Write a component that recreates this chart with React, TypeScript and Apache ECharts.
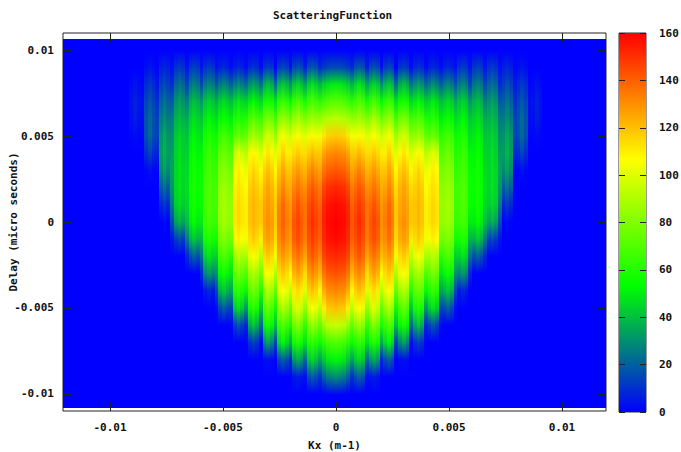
import React, { useEffect, useRef } from "react";
import * as echarts from "echarts";

const FONT = "'DejaVu Sans Mono', monospace";

const kxTicks = [-0.01, -0.005, 0, 0.005, 0.01];
const delayTicks = [-0.01, -0.005, 0, 0.005, 0.01];
const colorTicks = [0, 20, 40, 60, 80, 100, 120, 140, 160];
const paletteStops: [number, number[]][] = [
  [0, [0, 0, 255]],
  [53.33, [0, 255, 0]],
  [106.67, [255, 255, 0]],
  [160, [255, 0, 0]],
];

// Delay rows of every column, from +0.010 to -0.010 in 0.001 steps
const delayNodes = [0.01, 0.009, 0.008, 0.007, 0.006, 0.005, 0.004, 0.003, 0.002, 0.001, 0, -0.001, -0.002, -0.003, -0.004, -0.005, -0.006, -0.007, -0.008, -0.009, -0.01];

// One row per lobe, from the outermost lobe inwards (left half; the surface is mirrored about Kx = 0)
const valleyRows = [
  [0,0,0,0,0,0,0,0,0,0,0,0,0,0,0,0,0,0,0,0,0],
  [0,0,1,3,3,1,0,0,0,0,0,0,0,0,0,0,0,0,0,0,0],
  [0,1,5,10,14,14,8,1,0,0,0,0,0,0,0,0,0,0,0,0,0],
  [0,3,9,19,26,30,33,34,32,26,16,4,0,0,0,0,0,0,0,0,0],
  [0,4,14,27,36,41,44,46,47,45,40,26,8,0,0,0,0,0,0,0,0],
  [0,4,15,32,42,47,52,55,56,55,50,38,24,8,0,0,0,0,0,0,0],
  [0,3,17,36,46,55,60,64,67,67,65,56,44,30,14,2,0,0,0,0,0],
  [0,2,20,40,50,62,70,76,82,84,83,76,62,48,34,14,1,0,0,0,0],
  [0,2,22,44,60,74,92,102,106,110,110,104,88,70,54,32,8,0,0,0,0],
  [0,2,24,46,66,82,98,108,114,118,118,110,92,78,60,42,22,2,0,0,0],
  [0,0,22,48,68,86,100,108,114,118,118,114,104,90,74,56,40,14,0,0,0],
  [0,3,30,54,76,96,110,118,124,128,130,128,120,106,92,74,58,36,8,0,0],
  [0,6,34,58,80,100,114,122,130,136,136,134,126,114,100,84,64,48,22,3,0],
];
const shoulderRows = [
  [0,0,2,4,3,1,0,0,0,0,0,0,0,0,0,0,0,0,0,0,0],
  [0,2,9,14,17,16,9,1,0,0,0,0,0,0,0,0,0,0,0,0,0],
  [0,6,13,20,26,31,33,29,19,8,0,0,0,0,0,0,0,0,0,0,0],
  [0,10,21,31,37,42,44,45,45,43,34,12,0,0,0,0,0,0,0,0,0],
  [0,11,24,37,44,49,52,54,55,54,50,38,16,0,0,0,0,0,0,0,0],
  [0,10,25,41,49,57,62,65,67,67,65,57,44,28,5,0,0,0,0,0,0],
  [0,6,25,43,53,65,73,79,83,85,84,77,66,52,37,15,0,0,0,0,0],
  [0,6,26,46,58,72,96,106,110,112,112,106,88,74,60,43,13,0,0,0,0],
  [0,8,30,50,68,84,104,112,117,119,119,114,102,86,73,57,36,10,0,0,0],
  [0,10,36,56,76,94,108,116,122,125,127,124,114,103,86,69,53,28,2,0,0],
  [0,12,38,61,81,100,110,119,126,132,134,131,124,114,102,85,65,46,16,0,0],
  [0,14,41,64,84,102,114,124,132,138,142,140,132,122,110,95,75,56,32,4,0],
  [0,16,44,66,84,104,118,129,138,144,147,144,138,128,116,102,81,60,42,16,0],
];
const peakRows = [
  [0,0,4,7,6,2,0,0,0,0,0,0,0,0,0,0,0,0,0,0,0],
  [0,4,12,18,22,22,14,3,0,0,0,0,0,0,0,0,0,0,0,0,0],
  [0,8,16,24,30,36,38,34,24,12,2,0,0,0,0,0,0,0,0,0,0],
  [0,12,24,34,40,45,47,48,48,46,38,16,0,0,0,0,0,0,0,0,0],
  [0,13,27,40,47,52,55,57,58,57,54,42,20,0,0,0,0,0,0,0,0],
  [0,12,28,44,52,60,65,68,70,70,68,60,48,32,8,0,0,0,0,0,0],
  [0,8,28,46,56,68,76,82,86,88,87,80,70,56,42,20,0,0,0,0,0],
  [0,8,30,50,62,76,100,110,113,115,115,110,92,78,64,48,18,0,0,0,0],
  [0,10,34,54,72,88,108,116,120,122,122,118,106,90,76,62,42,14,0,0,0],
  [0,12,40,58,78,97,112,120,126,128,130,127,118,107,90,74,58,34,3,0,0],
  [0,14,42,65,85,105,116,125,132,138,140,137,128,118,106,90,70,52,20,0,0],
  [0,16,45,68,88,106,118,128,136,143,146,144,136,126,114,100,80,60,36,6,0],
  [0,18,48,70,88,108,122,133,142,148,151,148,142,132,120,106,86,64,46,20,0],
];
// Central lobe, from its left edge to Kx = 0
const centreKx = [-0.000708, -0.00053, -0.00035, -0.00018, 0];
const centreRows = [
  [0,8,38,62,84,104,118,126,134,140,142,140,132,122,108,94,74,56,34,10,0],
  [0,12,44,66,88,112,126,136,146,152,154,152,146,136,124,110,86,62,42,20,0],
  [0,14,47,69,90,116,130,140,150,156,158,156,150,141,130,118,92,67,49,26,1],
  [0,15,49,71,91,117,131,141,151,157,159,157,151,142,131,119,94,69,51,28,2],
  [0,15,50,72,92,118,132,142,152,158,160,158,152,143,132,120,95,70,52,30,2],
];
const lobeStartKx = -0.009221;
const lobeWidthKx = 0.000655;

const xRange = [-0.01208, 0.01195];
const yRange = [-0.011, 0.011];
const surfaceDelay = [-0.01081, 0.01066];

function valueColor(v: number): string {
  for (let i = 1; i < paletteStops.length; i++) {
    const [v1, c1] = paletteStops[i];
    const [v0, c0] = paletteStops[i - 1];
    if (v <= v1) {
      const t = (v - v0) / (v1 - v0);
      const c = c0.map((a, k) => Math.round(a + (c1[k] - a) * t));
      return `rgb(${c[0]},${c[1]},${c[2]})`;
    }
  }
  return "rgb(255,0,0)";
}

function buildColumns() {
  const left: { kx: number; row: number[] }[] = [];
  valleyRows.forEach((_, n) => {
    const start = lobeStartKx + n * lobeWidthKx;
    [valleyRows[n], shoulderRows[n], peakRows[n], shoulderRows[n]].forEach((row, j) => {
      left.push({ kx: start + (j * lobeWidthKx) / 4, row });
    });
  });
  centreRows.forEach((row, i) => left.push({ kx: centreKx[i], row }));
  const right = left.slice(0, -1).reverse().map((c) => ({ kx: -c.kx, row: c.row }));
  return [...left, ...right];
}

const columns = buildColumns();
const stripData = columns.map((c, i) => {
  const prev = i > 0 ? columns[i - 1].kx : c.kx - lobeWidthKx / 4;
  const next = i < columns.length - 1 ? columns[i + 1].kx : c.kx + lobeWidthKx / 4;
  return [(prev + c.kx) / 2, (c.kx + next) / 2, delayNodes[0], delayNodes[delayNodes.length - 1], i];
});

function rectOf(api: any) {
  const a = api.coord([api.value(0), api.value(2)]);
  const b = api.coord([api.value(1), api.value(3)]);
  const x = Math.round(a[0]);
  const y = Math.round(a[1]);
  return { x, y, width: Math.round(b[0]) - x, height: Math.round(b[1]) - y };
}

const mono = { fontFamily: FONT, fontSize: 11, fontWeight: "bold" as const, color: "#111" };
const lineStyle = { color: "#222", width: 1 };
const noLine = { show: false, onZero: false };
const fmt = (v: number) => String(v);

export default function App() {
  const ref = useRef<HTMLDivElement>(null);
  useEffect(() => {
    const chart = echarts.init(ref.current!, undefined, { renderer: "svg" });
    const barStops = paletteStops.map(([v]) => ({ offset: 1 - v / 160, color: valueColor(v) })).reverse();
    chart.setOption({
      animation: false,
      backgroundColor: "#fff",
      title: {
        text: "ScatteringFunction",
        left: 273,
        top: 10,
        padding: 0,
        textStyle: { ...mono },
      },
      grid: [
        { left: 63, top: 33, width: 543, height: 378, show: true, borderColor: "#222", borderWidth: 1, backgroundColor: "#fff", outerBoundsMode: "none" },
        { left: 619, top: 33, width: 27, height: 379, show: true, borderColor: "#333", borderWidth: 1, outerBoundsMode: "none" },
      ],
      xAxis: [
        {
          type: "value", gridIndex: 0, min: xRange[0], max: xRange[1], position: "bottom", z: 5,
          name: "Kx (m-1)", nameLocation: "middle", nameGap: 29, nameMoveOverlap: false, nameTextStyle: { ...mono },
          axisLine: noLine,
          axisTick: { show: true, inside: true, length: 9, lineStyle, customValues: kxTicks },
          axisLabel: { ...mono, margin: 11, customValues: kxTicks, formatter: fmt },
          splitLine: { show: false },
        },
        {
          type: "value", gridIndex: 0, min: xRange[0], max: xRange[1], position: "top", z: 5,
          axisLine: noLine,
          axisTick: { show: true, inside: true, length: 9, lineStyle, customValues: kxTicks },
          axisLabel: { show: false },
          splitLine: { show: false },
        },
        { type: "value", gridIndex: 1, min: 0, max: 1, show: false },
      ],
      yAxis: [
        {
          type: "value", gridIndex: 0, min: yRange[0], max: yRange[1], position: "left", z: 5,
          name: "Delay (micro seconds)", nameLocation: "middle", nameGap: 44, nameMoveOverlap: false, nameTextStyle: { ...mono },
          axisLine: noLine,
          axisTick: { show: true, inside: true, length: 9, lineStyle, customValues: delayTicks },
          axisLabel: { ...mono, margin: 9, customValues: delayTicks, formatter: fmt },
          splitLine: { show: false },
        },
        {
          type: "value", gridIndex: 0, min: yRange[0], max: yRange[1], position: "right", z: 5,
          axisLine: noLine,
          axisTick: { show: true, inside: true, length: 9, lineStyle, customValues: delayTicks },
          axisLabel: { show: false },
          splitLine: { show: false },
        },
        {
          type: "value", gridIndex: 1, min: 0, max: 160, position: "right", z: 5,
          axisLine: noLine,
          axisTick: { show: true, inside: true, length: 6, lineStyle, customValues: colorTicks },
          axisLabel: { ...mono, margin: 13, customValues: colorTicks, formatter: fmt },
          splitLine: { show: false },
        },
        {
          type: "value", gridIndex: 1, min: 0, max: 160, position: "left", z: 5,
          axisLine: noLine,
          axisTick: { show: true, inside: true, length: 6, lineStyle, customValues: colorTicks },
          axisLabel: { show: false },
          splitLine: { show: false },
        },
      ],
      series: [
        {
          type: "custom", xAxisIndex: 0, yAxisIndex: 0, z: 1, silent: true, clip: true,
          encode: { x: [0, 1], y: [2, 3] },
          data: [[xRange[0], xRange[1], surfaceDelay[1], surfaceDelay[0]]],
          renderItem: (_: any, api: any) => ({ type: "rect", shape: rectOf(api), style: { fill: "#0000ff" } }),
        },
        {
          type: "custom", xAxisIndex: 0, yAxisIndex: 0, z: 2, silent: true, clip: true,
          encode: { x: [0, 1], y: [2, 3] },
          data: stripData,
          renderItem: (_: any, api: any) => {
            const row = columns[api.value(4)].row;
            const stops = row.map((v, i) => ({ offset: i / (row.length - 1), color: valueColor(v) }));
            return {
              type: "rect",
              shape: rectOf(api),
              style: { fill: new echarts.graphic.LinearGradient(0, 0, 0, 1, stops) },
            };
          },
        },
        {
          type: "custom", xAxisIndex: 2, yAxisIndex: 2, z: 1, silent: true,
          encode: { x: [0, 1], y: [2, 3] },
          data: [[0, 1, 160, 0]],
          renderItem: (_: any, api: any) => ({
            type: "rect",
            shape: rectOf(api),
            style: { fill: new echarts.graphic.LinearGradient(0, 0, 0, 1, barStops) },
          }),
        },
      ],
    });
    return () => chart.dispose();
  }, []);
  return <div ref={ref} style={{ position: "absolute", left: 0, top: 0, width: 681, height: 452 }} />;
}
